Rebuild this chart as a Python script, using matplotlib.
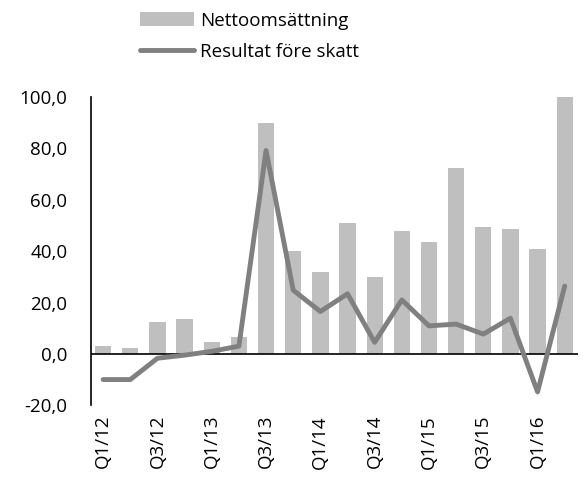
import matplotlib.pyplot as plt
import numpy as np

plt.rcParams['font.family'] = ['Open Sans', 'DejaVu Sans']

quarters = ['Q1/12', 'Q2/12', 'Q3/12', 'Q4/12', 'Q1/13', 'Q2/13', 'Q3/13', 'Q4/13',
            'Q1/14', 'Q2/14', 'Q3/14', 'Q4/14', 'Q1/15', 'Q2/15', 'Q3/15', 'Q4/15',
            'Q1/16', 'Q2/16']
nettoomsattning = [3.2, 2.4, 12.5, 13.4, 4.7, 6.4, 90.1, 40.2, 31.8, 50.9,
                   30.1, 48.0, 43.4, 72.3, 49.4, 48.6, 40.9, 100.4]
resultat = [-10.0, -10.0, -1.7, -0.5, 1.0, 3.0, 79.2, 24.8, 16.5, 23.4,
            4.5, 21.0, 10.9, 11.6, 7.7, 13.9, -14.8, 26.4]
yticks = [-20, 0, 20, 40, 60, 80, 100]

fig = plt.figure(figsize=(5.83, 4.83), dpi=100)
ax = fig.add_axes([0.156, 0.161, 0.835, 0.638])

x = np.arange(len(quarters))
bars = ax.bar(x, nettoomsattning, width=0.6, color='#BFBFBF', label='Nettoomsättning')
line, = ax.plot(x, resultat, color='#808080', lw=3.5, solid_capstyle='round',
                solid_joinstyle='round', label='Resultat före skatt')

ax.set_ylim(-20, 100)
ax.set_xlim(-0.45, len(quarters) - 0.52)
ax.set_yticks(yticks)
ax.set_yticklabels([f'{v:.1f}'.replace('.', ',') for v in yticks], fontsize=13.5)
ax.set_xticks(x[::2])
ax.set_xticklabels(quarters[::2], rotation=90, fontsize=13.5)
ax.tick_params(length=0)
ax.tick_params(axis='x', pad=7)
ax.tick_params(axis='y', pad=17)

for s in ['top', 'right', 'bottom']:
    ax.spines[s].set_visible(False)
ax.spines['left'].set_linewidth(1.2)
ax.axhline(0, color='black', lw=1.2, zorder=1.5)

fig.legend(handles=[bars, line], loc='upper left', bbox_to_anchor=(0.224, 0.995),
           frameon=False, fontsize=13.5, handlelength=2.9, handleheight=0.75,
           handletextpad=0.3, labelspacing=0.7, borderaxespad=0.1)

fig.savefig('out.png', dpi=100)
